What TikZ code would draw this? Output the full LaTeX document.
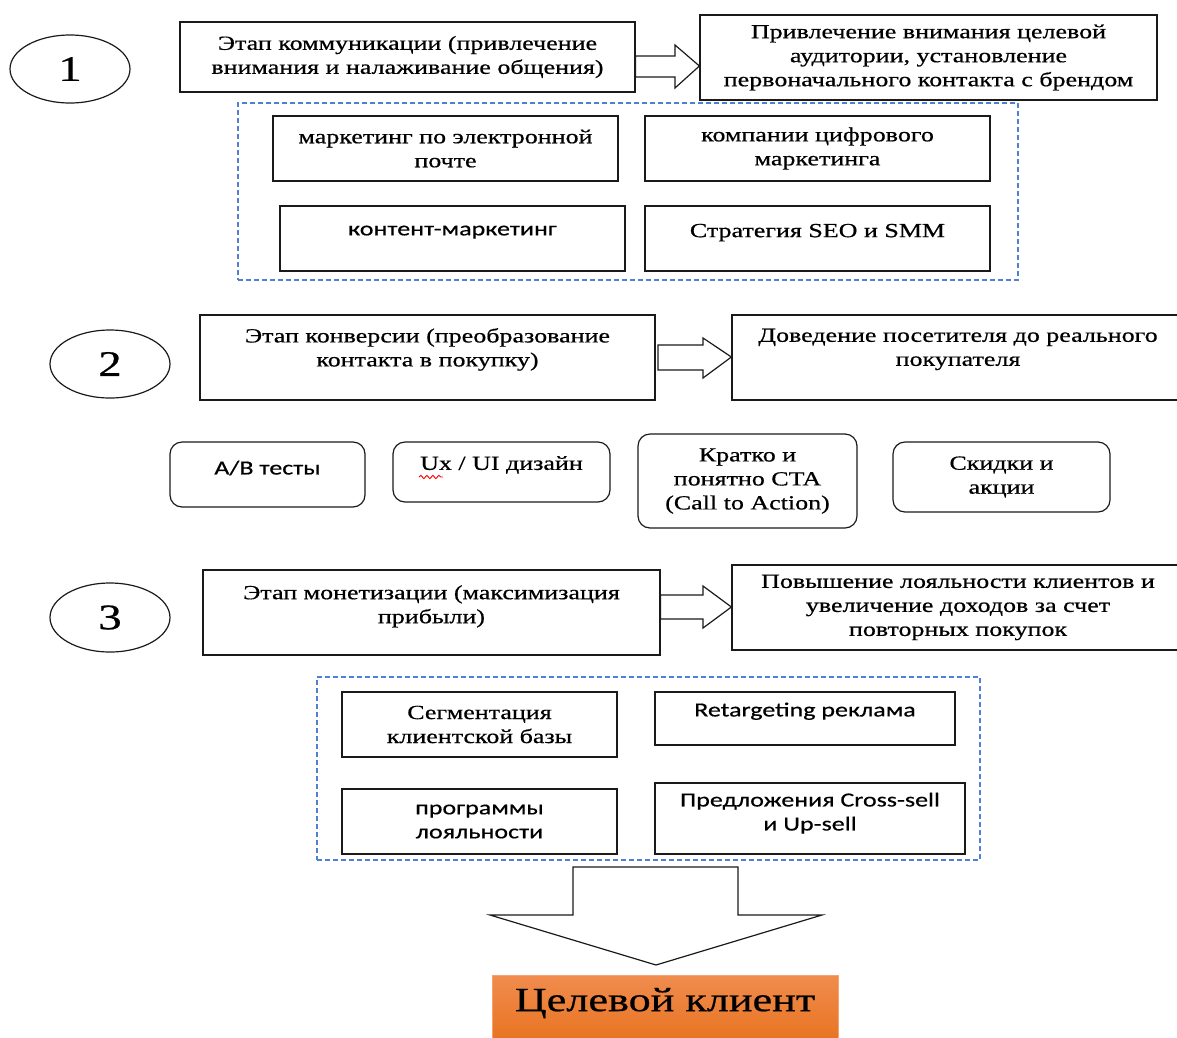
\documentclass[tikz,border=0pt]{standalone}
\usepackage{fontspec}
\setmainfont{Liberation Serif}[FakeStretch=1.3, FakeBold=0.6]
\newfontfamily\sansf{Carlito}[FakeStretch=1.3, FakeBold=0.5]
\usetikzlibrary{calc,decorations.pathmorphing,shapes.geometric}
\definecolor{dashblue}{HTML}{4F81D0}
\definecolor{orTop}{HTML}{F08C4E}
\definecolor{orBot}{HTML}{E8721E}
\definecolor{ink}{HTML}{1A1A1A}
\newcommand\fz{\fontsize{20}{24}\selectfont}
\tikzset{
  box/.style={draw=ink, line width=1.2pt, rectangle, inner sep=0pt, align=center, font=\fz},
  sbox/.style={box, font=\fz\sansf},
  rbox/.style={box, rounded corners=12pt},
  rsbox/.style={sbox, rounded corners=12pt},
  numell/.style={draw=ink, line width=1.2pt, ellipse, inner sep=0pt, font=\fontsize{36}{36}\selectfont},
  dashframe/.style={draw=dashblue, line width=1.2pt, dash pattern=on 5pt off 3pt},
  blockarrow/.style={draw=ink, line width=1.2pt, fill=white, line join=miter},
}
\begin{document}
\begin{tikzpicture}[x=1pt,y=-1pt]
\useasboundingbox (0,0) rectangle (1177,1037);
\clip (0,0) rectangle (1177,1037);
% ---------- stage 1
\node[numell, minimum width=120, minimum height=68] (e1) at (70,69) {1};
\node[box, minimum width=455, minimum height=70] (a1) at (407.5,57) {Этап коммуникации (привлечение\\внимания и налаживание общения)};
\node[box, minimum width=457, minimum height=85] (b1) at (928.5,57.5) {Привлечение внимания целевой\\аудитории, установление\\первоначального контакта с брендом};
\node[dashframe, rectangle, minimum width=780, minimum height=177, inner sep=0pt] (d1) at (628,191.5) {};
\node[box, minimum width=345, minimum height=65] (s11) at (445.5,148.5) {маркетинг по электронной\\почте};
\node[box, minimum width=345, minimum height=65] (s12) at (817.5,148.5) {компании цифрового\\маркетинга};
\node[sbox, minimum width=345, minimum height=65, text depth=16pt] (s13) at (452.5,238.5) {контент-маркетинг};
\node[box, minimum width=345, minimum height=65, text depth=16pt] (s14) at (817.5,238.5) {Стратегия SEO и SMM};
\draw[blockarrow] (a1.east |- 0,56) -- (675,56) -- (675,45) -- (b1.west |- 0,66) -- (675,88) -- (675,77) -- (a1.east |- 0,77) -- cycle;
% ---------- stage 2
\node[numell, minimum width=120, minimum height=68] (e2) at (110,364) {2};
\node[box, minimum width=455, minimum height=85, text depth=20.5pt] (a2) at (427.5,357.5) {Этап конверсии (преобразование\\контакта в покупку)};
\node[box, minimum width=452, minimum height=85, text depth=20.5pt] (b2) at (958,357.5) {Доведение посетителя до реального\\покупателя};
\draw[blockarrow] (658,345) -- (703,345) -- (703,338) -- (b2.west |- 0,357) -- (703,378) -- (703,370) -- (658,370) -- cycle;
\node[rsbox, minimum width=195, minimum height=65, text depth=14pt] (r1) at (267.5,474.5) {A/B тесты};
\node[rbox, minimum width=217, minimum height=60, text depth=18pt] (r2) at (501.5,472) {Ux / UI дизайн};
\node[rbox, minimum width=219, minimum height=94] (r3) at (747.5,481) {Кратко и\\понятно CTA\\(Call to Action)};
\node[rbox, minimum width=217, minimum height=70] (r4) at (1001.5,477) {Скидки и\\акции};
\draw[red, line width=0.9pt, decorate, decoration={snake, amplitude=1.6pt, segment length=6pt}] (419,477) -- (443,477);
% ---------- stage 3
\node[numell, minimum width=120, minimum height=69] (e3) at (110,617.5) {3};
\node[box, minimum width=457, minimum height=85, text depth=16.5pt] (a3) at (431.5,612.5) {Этап монетизации (максимизация\\прибыли)};
\node[box, minimum width=452, minimum height=85] (b3) at (958,607.5) {Повышение лояльности клиентов и\\увеличение доходов за счет\\повторных покупок};
\draw[blockarrow] (a3.east |- 0,595) -- (703,595) -- (703,586) -- (b3.west |- 0,607) -- (703,628) -- (703,619) -- (a3.east |- 0,619) -- cycle;
\node[dashframe, rectangle, minimum width=663, minimum height=183, inner sep=0pt] (d3) at (648.5,768.5) {};
\node[box, minimum width=275, minimum height=65] (s31) at (479.5,724.5) {Сегментация\\клиентской базы};
\node[sbox, minimum width=300, minimum height=53, text depth=18pt] (s32) at (805,718.5) {Retargeting реклама};
\node[sbox, minimum width=275, minimum height=65] (s33) at (479.5,821.5) {программы\\лояльности};
\node[sbox, minimum width=310, minimum height=71, text depth=14pt] (s34) at (810,818.5) {Предложения Cross-sell\\и Up-sell};
% ---------- target
\node[rectangle, inner sep=0pt, minimum width=346, minimum height=70, top color=orTop, bottom color=orBot, draw=orTop!80!white, text depth=21pt, font=\fontsize{34}{34}\selectfont] (tgt) at (665,1010) {Целевой клиент};
\coordinate (tip) at (656,965);
\draw[blockarrow] (573,867) -- (738,867) -- (738,915) -- (822,915) -- (tip) -- (490,915) -- (573,915) -- cycle;
\end{tikzpicture}
\end{document}
